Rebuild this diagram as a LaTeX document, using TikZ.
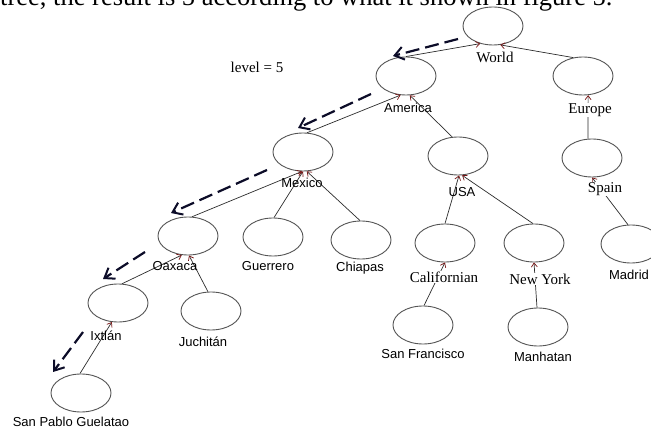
\documentclass[tikz,border=0pt]{standalone}
\usepackage{fontspec}
\setmainfont{Liberation Serif}
\newfontfamily\arialf{Liberation Sans}
\usetikzlibrary{shapes.geometric,arrows.meta}
\definecolor{ellcol}{RGB}{85,85,85}
\definecolor{linecol}{RGB}{45,45,45}
\definecolor{tipcol}{RGB}{120,20,20}
\definecolor{dashcol}{RGB}{12,12,40}
\tikzset{
  ell/.style={ellipse,draw=ellcol,line width=0.9pt,minimum width=60pt,minimum height=38pt,inner sep=0pt},
  sanslbl/.style={font=\arialf\fontsize{13}{15}\selectfont,inner sep=0.5pt},
  seriflbl/.style={font=\fontsize{15}{17}\selectfont,fill=white,inner sep=0.5pt},
  conn/.style={draw=linecol,line width=0.7pt,-{Straight Barb[length=4pt,width=6pt,color=tipcol]}},
  trail/.style={draw=dashcol,line width=2.2pt,dash pattern=on 14pt off 6pt,-{Straight Barb[length=9pt,width=13pt,line width=2pt]}}
}
\begin{document}
\begin{tikzpicture}[x=1pt,y=-1pt]
\useasboundingbox (0,0) rectangle (651,430);
\clip (0,0) rectangle (651,430);
\fill[white] (0,0) rectangle (651,430);
% ellipses
\node[ell] (world) at (493,26) {};
\node[ell] (america) at (406,76) {};
\node[ell] (europe) at (583,76) {};
\node[ell] (mexico) at (303,152) {};
\node[ell] (usa) at (458,156) {};
\node[ell] (spain) at (592,158) {};
\node[ell] (oaxaca) at (188,236) {};
\node[ell] (guerrero) at (273,237) {};
\node[ell] (chiapas) at (361,240) {};
\node[ell] (calif) at (445,243) {};
\node[ell] (newyork) at (534,243) {};
\node[ell] (madrid) at (631,244) {};
\node[ell] (ixtlan) at (118,303) {};
\node[ell] (juchitan) at (211,311) {};
\node[ell] (sanfran) at (423,325) {};
\node[ell] (manhatan) at (538,327) {};
\node[ell] (sanpablo) at (81,393) {};
% top text (cut off by the picture edge)
\node[anchor=base west,inner sep=0pt,font=\fontsize{26.5}{30}\selectfont] (toptext) at (0,6) {tree, the result is 5 according to what it shown in figure 5.};
% connectors
\draw[conn] (america.north) -- (world.234);
\draw[conn] (europe.118) -- (world.291);
\draw[conn] (mexico.78) -- (america.254);
\draw[conn] (usa.107) -- (america.281);
\draw[conn] (spain.102) -- (europe.285);
\draw[conn] (madrid.99) -- (spain.270);
\draw[conn] (oaxaca.78) -- (mexico.267);
\draw[conn] (guerrero.87) -- (mexico.270);
\draw[conn] (chiapas.93) -- (mexico.281);
\draw[conn] (calif.90) -- (usa.273);
\draw[conn] (newyork.93) -- (usa.282);
\draw[conn] (ixtlan.78) -- (oaxaca.252);
\draw[conn] (juchitan.99) -- (oaxaca.273);
\draw[conn] (sanpablo.93) -- (ixtlan.252);
\draw[conn] (sanfran.87) -- (calif.270);
\draw[conn] (manhatan.93) -- (newyork.270);
% labels
\node[seriflbl] (worldL) at (495,57) {World};
\node[sanslbl] (americaL) at (408,108) {America};
\node[seriflbl] (europeL) at (590,110) {Europe};
\node[sanslbl] (mexicoL) at (302,183) {Mexico};
\node[sanslbl] (usaL) at (462,192) {USA};
\node[seriflbl] (spainL) at (605,189) {Spain};
\node[sanslbl] (oaxacaL) at (175,266) {Oaxaca};
\node[sanslbl] (guerreroL) at (268,266) {Guerrero};
\node[sanslbl] (chiapasL) at (360,268) {Chiapas};
\node[seriflbl] (califL) at (444,277) {Californian};
\node[seriflbl] (newyorkL) at (540,279) {New York};
\node[sanslbl] (madridL) at (629,275) {Madrid};
\node[sanslbl] (ixtlanL) at (106,336) {Ixtlán};
\node[sanslbl] (juchitanL) at (203,342) {Juchitán};
\node[sanslbl] (sanfranL) at (423,354) {San Francisco};
\node[sanslbl] (manhatanL) at (543,357) {Manhatan};
\node[sanslbl] (sanpabloL) at (71,422) {San Pablo Guelatao};
\node[font=\fontsize{15}{17}\selectfont,inner sep=0pt] (level) at (257,67) {level = 5};
% dashed trail
\coordinate (d1s) at (458,39); \coordinate (d1e) at (393,56);
\coordinate (d2s) at (371,94); \coordinate (d2e) at (298,128);
\coordinate (d3s) at (267,170); \coordinate (d3e) at (171,213);
\coordinate (d4s) at (145,252); \coordinate (d4e) at (103,279);
\coordinate (d5s) at (83,332); \coordinate (d5e) at (53,372);
\draw[trail] (d1s) -- (d1e);
\draw[trail] (d2s) -- (d2e);
\draw[trail] (d3s) -- (d3e);
\draw[trail] (d4s) -- (d4e);
\draw[trail] (d5s) -- (d5e);
\end{tikzpicture}
\end{document}
